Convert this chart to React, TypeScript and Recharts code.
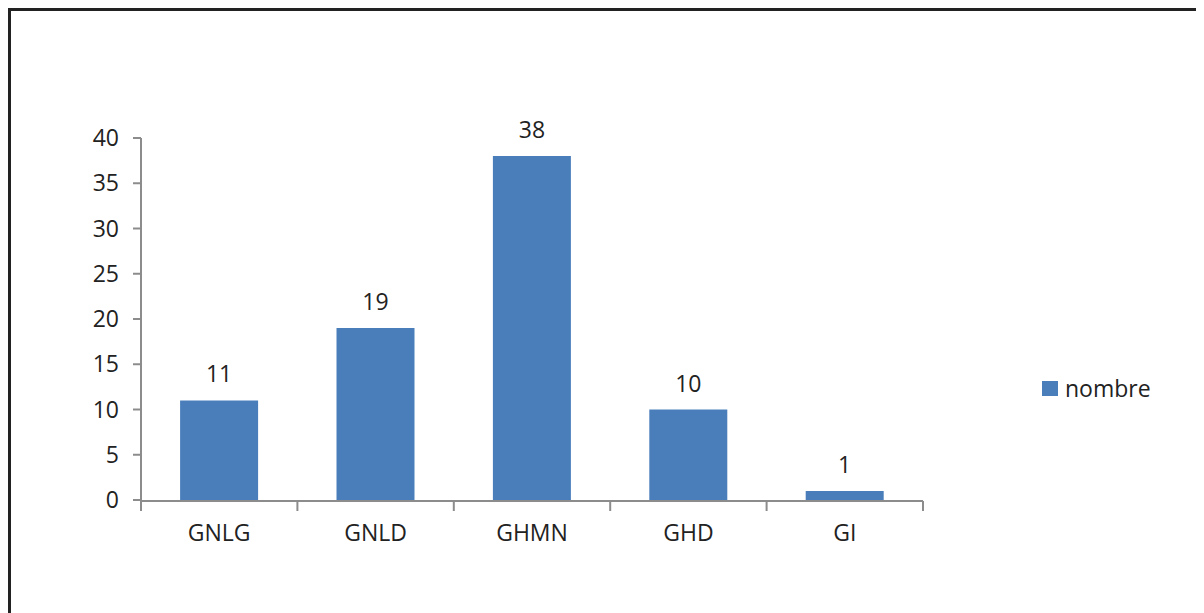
import React from "react";
import { BarChart, Bar, XAxis, YAxis, LabelList } from "recharts";

const categories = ["GNLG", "GNLD", "GHMN", "GHD", "GI"];
const nombre = [11, 19, 38, 10, 1];
const yTicks = [0, 5, 10, 15, 20, 25, 30, 35, 40];
const boundaryTicks = [0, 1, 2, 3, 4, 5];
const seriesName = "nombre";

const data = categories.map((c, i) => ({ cat: c, idx: i + 0.5, nombre: nombre[i] }));

const FONT = "'Open Sans', sans-serif";
const FS = 23;
const BLUE = "#4A7EBB";
const AXIS = "#8c8c8c";

export default function App() {
  return (
    <div style={{ position: "relative", width: 1196, height: 605 }}>
      <div
        style={{
          position: "absolute",
          left: 0,
          top: 0,
          width: 1200,
          height: 620,
          borderLeft: "3px solid #222",
          borderTop: "3px solid #222",
          boxSizing: "border-box",
        }}
      />
      <div style={{ position: "absolute", left: 0, top: 0 }}>
        <BarChart
          width={1196}
          height={605}
          data={data}
          margin={{ top: 130, right: 281, bottom: 111, left: 0 }}
          barCategoryGap="25%"
        >
          <XAxis
            dataKey="cat"
            xAxisId="cat"
            axisLine={false}
            tickLine={false}
            tickSize={0}
            tickMargin={25}
            height={1}
            tick={{ fill: "#222", fontSize: FS, fontFamily: FONT }}
          />
          <XAxis
            xAxisId="num"
            type="number"
            dataKey="idx"
            domain={[0, 5]}
            ticks={boundaryTicks}
            interval={0}
            tickFormatter={() => ""}
            tickSize={10}
            axisLine={{ stroke: AXIS, strokeWidth: 2 }}
            tickLine={{ stroke: AXIS, strokeWidth: 2 }}
            height={1}
          />
          <YAxis
            width={133}
            domain={[0, 40]}
            ticks={yTicks}
            interval={0}
            tickSize={8}
            tickMargin={14}
            axisLine={{ stroke: AXIS, strokeWidth: 2 }}
            tickLine={{ stroke: AXIS, strokeWidth: 2 }}
            tick={{ fill: "#222", fontSize: FS, fontFamily: FONT }}
          />
          <Bar dataKey="nombre" xAxisId="cat" fill={BLUE} isAnimationActive={false}>
            <LabelList
              dataKey="nombre"
              position="top"
              offset={18}
              style={{ fill: "#222", fontSize: FS, fontFamily: FONT }}
            />
          </Bar>
        </BarChart>
      </div>
      <div
        style={{
          position: "absolute",
          left: 1034,
          top: 365,
          display: "flex",
          alignItems: "center",
          fontFamily: FONT,
          fontSize: FS,
          color: "#222",
          lineHeight: "30px",
        }}
      >
        <div style={{ width: 16, height: 15, background: BLUE, marginRight: 7 }} />
        <span>{seriesName}</span>
      </div>
    </div>
  );
}
